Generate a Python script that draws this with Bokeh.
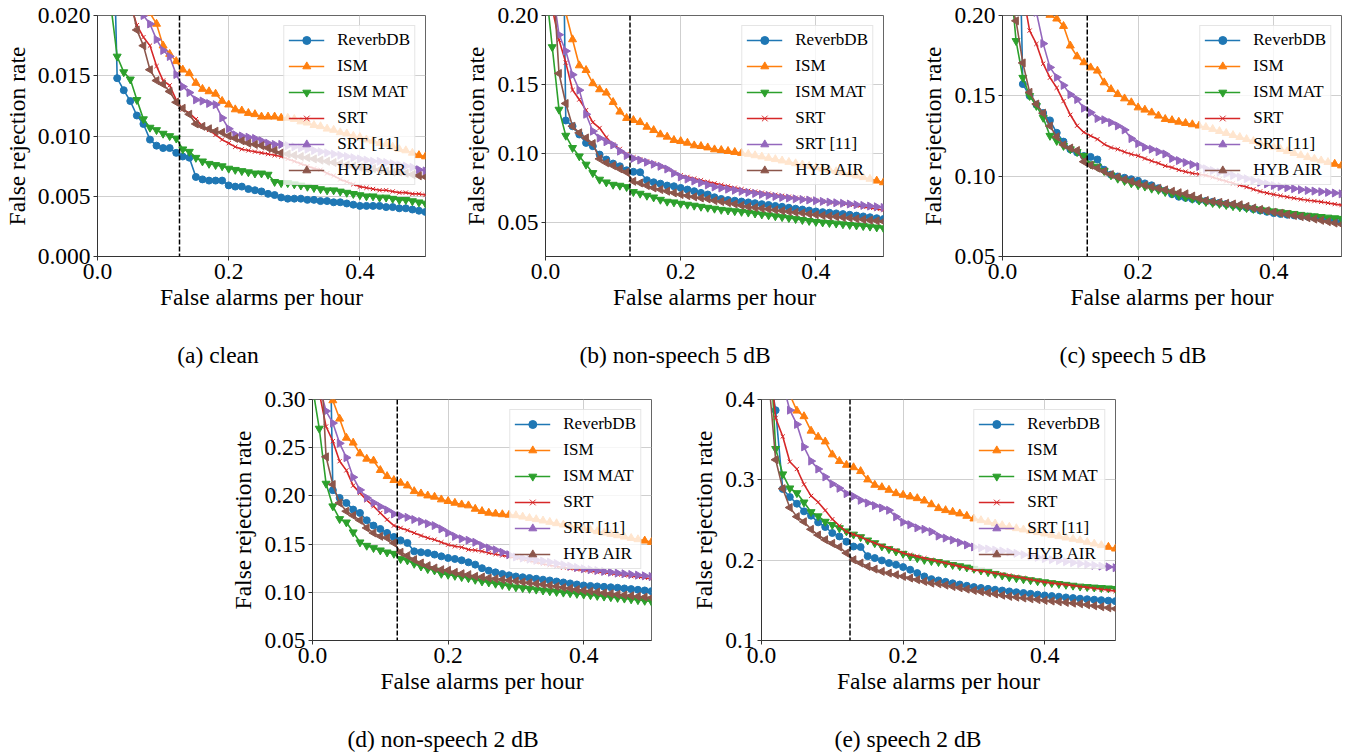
import math
from bokeh.plotting import figure
from bokeh.layouts import row, column
from bokeh.models import (Range1d, FixedTicker, PrintfTickFormatter, Span, Legend,
                          LegendItem, Spacer, Div)
from bokeh.embed import file_html
from bokeh.resources import INLINE

# ---------------- data ----------------
false_alarms_per_hour = [
    0.00, 0.01, 0.02, 0.03, 0.04, 0.05, 0.06, 0.07, 0.08, 0.09,
    0.10, 0.11, 0.12, 0.13, 0.14, 0.15, 0.16, 0.17, 0.18, 0.19,
    0.20, 0.21, 0.22, 0.23, 0.24, 0.25, 0.26, 0.27, 0.28, 0.29,
    0.30, 0.31, 0.32, 0.33, 0.34, 0.35, 0.36, 0.37, 0.38, 0.39,
    0.40, 0.41, 0.42, 0.43, 0.44, 0.45, 0.46, 0.47, 0.48, 0.49,
    0.50]
target_fa = 0.125

series_names = ["ReverbDB", "ISM", "ISM MAT", "SRT", "SRT [11]", "HYB AIR"]

# (a) clean
clean_reverbdb = [
    0.30, 0.12, 0.037, 0.0148, 0.0138, 0.0129, 0.0117, 0.0110, 0.0097, 0.0092,
    0.0090, 0.0090, 0.0086, 0.0083, 0.0082, 0.0066, 0.0064, 0.0063, 0.0063, 0.0063,
    0.0059, 0.0058, 0.0058, 0.0056, 0.0055, 0.0054, 0.0052, 0.0051, 0.0049, 0.0048,
    0.0048, 0.0048, 0.0047, 0.0047, 0.0046, 0.0046, 0.0045, 0.0045, 0.0044, 0.0043,
    0.0042, 0.0042, 0.0042, 0.0042, 0.0041, 0.0041, 0.0040, 0.0040, 0.0039, 0.0038,
    0.0037]
clean_ism = [
    0.060, 0.050, 0.042, 0.036, 0.031, 0.027, 0.024, 0.0218, 0.0202, 0.0193,
    0.0175, 0.0168, 0.0162, 0.0155, 0.0152, 0.0144, 0.0139, 0.0137, 0.0135, 0.0129,
    0.0126, 0.0122, 0.0121, 0.0119, 0.0118, 0.0116, 0.0116, 0.0116, 0.0115, 0.0115,
    0.0114, 0.0112, 0.0111, 0.0109, 0.0108, 0.0106, 0.0105, 0.0103, 0.0102, 0.0100,
    0.0099, 0.0097, 0.0096, 0.0094, 0.0093, 0.0091, 0.0089, 0.0088, 0.0086, 0.0084,
    0.0083]
clean_ism_mat = [
    0.080, 0.045, 0.021, 0.0166, 0.0153, 0.0147, 0.0130, 0.0114, 0.0107, 0.0105,
    0.0102, 0.0100, 0.0098, 0.0089, 0.0087, 0.0082, 0.0079, 0.0077, 0.0076, 0.0075,
    0.0073, 0.0072, 0.0071, 0.0070, 0.0069, 0.0069, 0.0068, 0.0062, 0.0061, 0.0061,
    0.0060, 0.0059, 0.0058, 0.0057, 0.0056, 0.0055, 0.0055, 0.0054, 0.0053, 0.0052,
    0.0051, 0.0050, 0.0050, 0.0049, 0.0049, 0.0048, 0.0047, 0.0047, 0.0046, 0.0045,
    0.0044]
clean_srt = [
    0.060, 0.050, 0.040, 0.032, 0.026, 0.0210, 0.0192, 0.0182, 0.0175, 0.0158,
    0.0146, 0.0142, 0.0130, 0.0122, 0.0119, 0.0114, 0.0108, 0.0105, 0.0101, 0.0097,
    0.0094, 0.0091, 0.0089, 0.0088, 0.0087, 0.0086, 0.0085, 0.0084, 0.0083, 0.0081,
    0.0079, 0.0077, 0.0075, 0.0073, 0.0072, 0.0069, 0.0067, 0.0064, 0.0062, 0.0060,
    0.0058, 0.0057, 0.0056, 0.0055, 0.0055, 0.0054, 0.0053, 0.0053, 0.0052, 0.0052,
    0.0051]
clean_srt11 = [
    0.080, 0.065, 0.052, 0.042, 0.034, 0.028, 0.0225, 0.0200, 0.0193, 0.0180,
    0.0171, 0.0166, 0.0151, 0.0141, 0.0136, 0.0130, 0.0129, 0.0127, 0.0126, 0.0115,
    0.0106, 0.0101, 0.0100, 0.0099, 0.0098, 0.0096, 0.0094, 0.0093, 0.0093, 0.0092,
    0.0091, 0.0090, 0.0089, 0.0088, 0.0087, 0.0086, 0.0085, 0.0084, 0.0083, 0.0082,
    0.0081, 0.0080, 0.0079, 0.0079, 0.0078, 0.0077, 0.0076, 0.0075, 0.0074, 0.0072,
    0.0071]
clean_hyb = [
    0.060, 0.050, 0.040, 0.032, 0.026, 0.0215, 0.0188, 0.0175, 0.0155, 0.0146,
    0.0143, 0.0137, 0.0128, 0.0123, 0.0118, 0.0110, 0.0108, 0.0106, 0.0104, 0.0103,
    0.0100, 0.0098, 0.0096, 0.0094, 0.0093, 0.0092, 0.0090, 0.0088, 0.0086, 0.0085,
    0.0084, 0.0083, 0.0082, 0.0081, 0.0080, 0.0079, 0.0078, 0.0077, 0.0076, 0.0075,
    0.0074, 0.0073, 0.0073, 0.0072, 0.0071, 0.0070, 0.0070, 0.0069, 0.0068, 0.0067,
    0.0066]

# (b) non-speech 5 dB
ns5_reverbdb = [
    0.90, 0.70, 0.50, 0.1238, 0.1196, 0.1136, 0.1075, 0.1051, 0.0990, 0.0954,
    0.0925, 0.0905, 0.0876, 0.0865, 0.0862, 0.0804, 0.0789, 0.0779, 0.0765, 0.0760,
    0.0748, 0.0736, 0.0724, 0.0712, 0.0700, 0.0680, 0.0668, 0.0660, 0.0655, 0.0649,
    0.0643, 0.0637, 0.0630, 0.0624, 0.0617, 0.0611, 0.0604, 0.0597, 0.0591, 0.0584,
    0.0577, 0.0572, 0.0568, 0.0563, 0.0558, 0.0553, 0.0547, 0.0541, 0.0535, 0.0528,
    0.0522]
ns5_ism = [
    0.40, 0.30, 0.25, 0.202, 0.1826, 0.1637, 0.1603, 0.1507, 0.1463, 0.1439,
    0.1371, 0.1301, 0.1255, 0.1240, 0.1225, 0.1191, 0.1167, 0.1136, 0.1119, 0.1095,
    0.1087, 0.1075, 0.1056, 0.1051, 0.1041, 0.1027, 0.1022, 0.1015, 0.1008, 0.1001,
    0.0994, 0.0984, 0.0975, 0.0965, 0.0956, 0.0946, 0.0936, 0.0926, 0.0917, 0.0907,
    0.0897, 0.0887, 0.0878, 0.0868, 0.0859, 0.0849, 0.0837, 0.0825, 0.0813, 0.0800,
    0.0788]
ns5_ism_mat = [
    0.223, 0.1771, 0.1317, 0.1128, 0.1039, 0.0978, 0.0918, 0.0857, 0.0809, 0.0789,
    0.0772, 0.0765, 0.0755, 0.0719, 0.0707, 0.0692, 0.0680, 0.0663, 0.0649, 0.0644,
    0.0634, 0.0627, 0.0620, 0.0612, 0.0605, 0.0598, 0.0590, 0.0585, 0.0580, 0.0575,
    0.0570, 0.0563, 0.0556, 0.0550, 0.0543, 0.0537, 0.0530, 0.0523, 0.0516, 0.0509,
    0.0502, 0.0498, 0.0494, 0.0490, 0.0485, 0.0480, 0.0476, 0.0472, 0.0468, 0.0462,
    0.0456]
ns5_srt = [
    0.30, 0.205, 0.1822, 0.1658, 0.1459, 0.1390, 0.1313, 0.1224, 0.1183, 0.1115,
    0.1062, 0.1031, 0.0994, 0.0970, 0.0955, 0.0940, 0.0925, 0.0905, 0.0885, 0.0860,
    0.0840, 0.0828, 0.0816, 0.0804, 0.0792, 0.0781, 0.0770, 0.0760, 0.0749, 0.0739,
    0.0728, 0.0721, 0.0713, 0.0706, 0.0698, 0.0691, 0.0684, 0.0676, 0.0669, 0.0662,
    0.0655, 0.0649, 0.0643, 0.0638, 0.0632, 0.0626, 0.0618, 0.0610, 0.0603, 0.0595,
    0.0587]
ns5_srt11 = [
    0.40, 0.221, 0.1860, 0.1742, 0.1570, 0.1458, 0.1283, 0.1160, 0.1110, 0.1083,
    0.1060, 0.1015, 0.0983, 0.0962, 0.0950, 0.0935, 0.0920, 0.0905, 0.0885, 0.0855,
    0.0828, 0.0812, 0.0798, 0.0785, 0.0770, 0.0755, 0.0747, 0.0739, 0.0731, 0.0723,
    0.0715, 0.0708, 0.0701, 0.0693, 0.0686, 0.0679, 0.0674, 0.0669, 0.0664, 0.0660,
    0.0655, 0.0650, 0.0645, 0.0640, 0.0636, 0.0631, 0.0626, 0.0621, 0.0616, 0.0611,
    0.0606]
ns5_hyb = [
    0.40, 0.237, 0.1579, 0.1361, 0.1196, 0.1148, 0.1111, 0.1070, 0.0959, 0.0930,
    0.0910, 0.0886, 0.0862, 0.0796, 0.0784, 0.0765, 0.0748, 0.0736, 0.0724, 0.0712,
    0.0700, 0.0692, 0.0683, 0.0675, 0.0668, 0.0656, 0.0649, 0.0641, 0.0631, 0.0621,
    0.0611, 0.0605, 0.0599, 0.0594, 0.0588, 0.0582, 0.0576, 0.0570, 0.0565, 0.0559,
    0.0553, 0.0548, 0.0543, 0.0539, 0.0534, 0.0529, 0.0524, 0.0519, 0.0514, 0.0509,
    0.0504]

# (c) speech 5 dB
sp5_reverbdb = [
    0.60, 0.45, 0.35, 0.1573, 0.1500, 0.1445, 0.1393, 0.1347, 0.1270, 0.1215,
    0.1167, 0.1148, 0.1125, 0.1120, 0.1104, 0.1040, 0.1010, 0.0998, 0.0990, 0.0981,
    0.0971, 0.0955, 0.0943, 0.0925, 0.0910, 0.0888, 0.0872, 0.0865, 0.0858, 0.0852,
    0.0846, 0.0840, 0.0834, 0.0827, 0.0820, 0.0812, 0.0804, 0.0795, 0.0786, 0.0778,
    0.0770, 0.0765, 0.0760, 0.0756, 0.0752, 0.0748, 0.0743, 0.0737, 0.0730, 0.0722,
    0.0715]
sp5_ism = [
    0.55, 0.45, 0.37, 0.32, 0.28, 0.25, 0.22, 0.2003, 0.1980, 0.1934,
    0.1812, 0.1745, 0.1708, 0.1676, 0.1656, 0.1583, 0.1541, 0.1510, 0.1483, 0.1459,
    0.1427, 0.1413, 0.1396, 0.1376, 0.1355, 0.1348, 0.1338, 0.1330, 0.1322, 0.1314,
    0.1305, 0.1293, 0.1280, 0.1268, 0.1255, 0.1243, 0.1230, 0.1218, 0.1205, 0.1193,
    0.1180, 0.1168, 0.1155, 0.1143, 0.1130, 0.1118, 0.1108, 0.1097, 0.1087, 0.1076,
    0.1066]
sp5_ism_mat = [
    0.35, 0.2306, 0.1842, 0.1613, 0.1500, 0.1438, 0.1364, 0.1252, 0.1220, 0.1189,
    0.1168, 0.1151, 0.1127, 0.1075, 0.1060, 0.1033, 0.1006, 0.0985, 0.0971, 0.0956,
    0.0944, 0.0936, 0.0923, 0.0915, 0.0902, 0.0892, 0.0880, 0.0868, 0.0860, 0.0849,
    0.0840, 0.0834, 0.0828, 0.0821, 0.0814, 0.0807, 0.0802, 0.0797, 0.0792, 0.0787,
    0.0782, 0.0776, 0.0771, 0.0766, 0.0760, 0.0755, 0.0751, 0.0747, 0.0743, 0.0739,
    0.0735]
sp5_srt = [
    0.40, 0.30, 0.25, 0.214, 0.1906, 0.1823, 0.1700, 0.1613, 0.1550, 0.1467,
    0.1382, 0.1314, 0.1273, 0.1251, 0.1230, 0.1199, 0.1178, 0.1168, 0.1151, 0.1137,
    0.1127, 0.1110, 0.1095, 0.1081, 0.1064, 0.1054, 0.1039, 0.1028, 0.1018, 0.1012,
    0.1005, 0.0993, 0.0980, 0.0968, 0.0956, 0.0944, 0.0932, 0.0918, 0.0905, 0.0895,
    0.0886, 0.0878, 0.0870, 0.0863, 0.0856, 0.0850, 0.0845, 0.0840, 0.0833, 0.0826,
    0.0820]
sp5_srt11 = [
    0.50, 0.40, 0.32, 0.27, 0.23, 0.202, 0.1825, 0.1677, 0.1615, 0.1565,
    0.1508, 0.1477, 0.1423, 0.1396, 0.1359, 0.1351, 0.1334, 0.1313, 0.1288, 0.1234,
    0.1203, 0.1180, 0.1168, 0.1152, 0.1138, 0.1110, 0.1097, 0.1085, 0.1072, 0.1060,
    0.1046, 0.1035, 0.1025, 0.1015, 0.1004, 0.0994, 0.0984, 0.0973, 0.0962, 0.0952,
    0.0942, 0.0935, 0.0928, 0.0922, 0.0916, 0.0911, 0.0907, 0.0903, 0.0899, 0.0895,
    0.0890]
sp5_hyb = [
    0.30, 0.210, 0.1967, 0.1705, 0.1522, 0.1449, 0.1392, 0.1312, 0.1245, 0.1195,
    0.1175, 0.1160, 0.1090, 0.1068, 0.1050, 0.1030, 0.1010, 0.0995, 0.0980, 0.0968,
    0.0955, 0.0944, 0.0934, 0.0925, 0.0915, 0.0906, 0.0897, 0.0890, 0.0876, 0.0862,
    0.0849, 0.0843, 0.0837, 0.0831, 0.0827, 0.0822, 0.0812, 0.0802, 0.0793, 0.0785,
    0.0776, 0.0769, 0.0762, 0.0755, 0.0748, 0.0741, 0.0733, 0.0725, 0.0717, 0.0708,
    0.0700]

# (d) non-speech 2 dB
ns2_reverbdb = [
    0.90, 0.75, 0.60, 0.2059, 0.1979, 0.1927, 0.1858, 0.1823, 0.1747, 0.1692,
    0.1657, 0.1616, 0.1574, 0.1539, 0.1512, 0.1425, 0.1415, 0.1408, 0.1391, 0.1373,
    0.1356, 0.1346, 0.1332, 0.1311, 0.1287, 0.1250, 0.1225, 0.1207, 0.1190, 0.1176,
    0.1164, 0.1156, 0.1148, 0.1140, 0.1131, 0.1123, 0.1112, 0.1102, 0.1092, 0.1081,
    0.1071, 0.1066, 0.1061, 0.1057, 0.1052, 0.1047, 0.1040, 0.1033, 0.1026, 0.1019,
    0.1012]
ns2_ism = [
    0.50, 0.40, 0.34, 0.299, 0.2800, 0.2602, 0.2551, 0.2440, 0.2384, 0.2365,
    0.2267, 0.2204, 0.2163, 0.2135, 0.2107, 0.2048, 0.2024, 0.2003, 0.1990, 0.1962,
    0.1945, 0.1927, 0.1910, 0.1900, 0.1865, 0.1841, 0.1824, 0.1815, 0.1808, 0.1803,
    0.1798, 0.1784, 0.1770, 0.1757, 0.1743, 0.1729, 0.1715, 0.1701, 0.1688, 0.1674,
    0.1660, 0.1646, 0.1632, 0.1618, 0.1604, 0.1590, 0.1576, 0.1562, 0.1549, 0.1535,
    0.1521]
ns2_ism_mat = [
    0.313, 0.2699, 0.2128, 0.1893, 0.1761, 0.1726, 0.1623, 0.1519, 0.1484, 0.1460,
    0.1436, 0.1415, 0.1401, 0.1346, 0.1332, 0.1297, 0.1269, 0.1242, 0.1228, 0.1193,
    0.1183, 0.1172, 0.1159, 0.1148, 0.1131, 0.1114, 0.1103, 0.1090, 0.1078, 0.1065,
    0.1053, 0.1045, 0.1037, 0.1029, 0.1020, 0.1012, 0.1005, 0.0998, 0.0992, 0.0985,
    0.0978, 0.0971, 0.0964, 0.0957, 0.0950, 0.0943, 0.0936, 0.0928, 0.0920, 0.0913,
    0.0905]
ns2_srt = [
    0.40, 0.307, 0.2720, 0.2568, 0.2360, 0.2265, 0.2107, 0.2031, 0.1955, 0.1893,
    0.1823, 0.1754, 0.1692, 0.1668, 0.1643, 0.1616, 0.1588, 0.1564, 0.1546, 0.1519,
    0.1494, 0.1477, 0.1467, 0.1443, 0.1436, 0.1425, 0.1408, 0.1395, 0.1383, 0.1369,
    0.1355, 0.1340, 0.1325, 0.1310, 0.1295, 0.1280, 0.1268, 0.1257, 0.1247, 0.1237,
    0.1227, 0.1219, 0.1210, 0.1202, 0.1193, 0.1185, 0.1176, 0.1167, 0.1159, 0.1150,
    0.1141]
ns2_srt11 = [
    0.45, 0.314, 0.2880, 0.2755, 0.2545, 0.2397, 0.2193, 0.2062, 0.1980, 0.1930,
    0.1889, 0.1854, 0.1812, 0.1792, 0.1778, 0.1755, 0.1735, 0.1712, 0.1692, 0.1657,
    0.1616, 0.1580, 0.1555, 0.1540, 0.1519, 0.1484, 0.1460, 0.1440, 0.1415, 0.1390,
    0.1366, 0.1355, 0.1345, 0.1334, 0.1324, 0.1313, 0.1299, 0.1285, 0.1272, 0.1258,
    0.1244, 0.1235, 0.1226, 0.1217, 0.1208, 0.1199, 0.1192, 0.1185, 0.1178, 0.1171,
    0.1164]
ns2_hyb = [
    0.50, 0.376, 0.2405, 0.2118, 0.1927, 0.1841, 0.1796, 0.1747, 0.1668, 0.1616,
    0.1581, 0.1564, 0.1512, 0.1415, 0.1380, 0.1339, 0.1304, 0.1276, 0.1252, 0.1235,
    0.1228, 0.1207, 0.1193, 0.1183, 0.1166, 0.1159, 0.1148, 0.1140, 0.1132, 0.1124,
    0.1116, 0.1107, 0.1098, 0.1089, 0.1080, 0.1071, 0.1061, 0.1050, 0.1040, 0.1029,
    0.1019, 0.1011, 0.1003, 0.0994, 0.0986, 0.0978, 0.0971, 0.0964, 0.0957, 0.0950,
    0.0943]

# (e) speech 2 dB
sp2_reverbdb = [
    0.55, 0.44, 0.3866, 0.2886, 0.2786, 0.2703, 0.2608, 0.2554, 0.2471, 0.2413,
    0.2338, 0.2296, 0.2230, 0.2170, 0.2164, 0.2050, 0.2026, 0.1997, 0.1964, 0.1943,
    0.1914, 0.1881, 0.1839, 0.1798, 0.1764, 0.1748, 0.1730, 0.1712, 0.1697, 0.1681,
    0.1665, 0.1654, 0.1643, 0.1632, 0.1622, 0.1611, 0.1601, 0.1591, 0.1581, 0.1571,
    0.1561, 0.1553, 0.1545, 0.1536, 0.1528, 0.1520, 0.1514, 0.1508, 0.1502, 0.1496,
    0.1490]
sp2_ism = [
    0.70, 0.60, 0.52, 0.45, 0.406, 0.3860, 0.3790, 0.3610, 0.3535, 0.3476,
    0.3315, 0.3233, 0.3185, 0.3155, 0.3107, 0.3003, 0.2936, 0.2907, 0.2874, 0.2832,
    0.2812, 0.2791, 0.2770, 0.2740, 0.2694, 0.2646, 0.2621, 0.2600, 0.2580, 0.2550,
    0.2517, 0.2496, 0.2475, 0.2455, 0.2434, 0.2413, 0.2396, 0.2380, 0.2363, 0.2347,
    0.2330, 0.2313, 0.2297, 0.2280, 0.2264, 0.2247, 0.2226, 0.2205, 0.2185, 0.2164,
    0.2143]
sp2_ism_mat = [
    0.65, 0.50, 0.3386, 0.3070, 0.2895, 0.2836, 0.2720, 0.2600, 0.2548, 0.2480,
    0.2440, 0.2400, 0.2360, 0.2320, 0.2288, 0.2247, 0.2213, 0.2172, 0.2139, 0.2110,
    0.2081, 0.2047, 0.2026, 0.2005, 0.1990, 0.1978, 0.1960, 0.1942, 0.1926, 0.1910,
    0.1894, 0.1873, 0.1852, 0.1831, 0.1810, 0.1789, 0.1777, 0.1764, 0.1752, 0.1739,
    0.1727, 0.1716, 0.1705, 0.1695, 0.1684, 0.1673, 0.1667, 0.1661, 0.1655, 0.1650,
    0.1644]
sp2_srt = [
    0.60, 0.4655, 0.3770, 0.3540, 0.3225, 0.3135, 0.2943, 0.2800, 0.2722, 0.2620,
    0.2510, 0.2428, 0.2355, 0.2320, 0.2290, 0.2247, 0.2213, 0.2180, 0.2151, 0.2122,
    0.2089, 0.2068, 0.2047, 0.2025, 0.2005, 0.1985, 0.1965, 0.1944, 0.1923, 0.1902,
    0.1881, 0.1867, 0.1853, 0.1838, 0.1824, 0.1810, 0.1793, 0.1777, 0.1760, 0.1744,
    0.1727, 0.1716, 0.1705, 0.1695, 0.1684, 0.1673, 0.1661, 0.1650, 0.1638, 0.1627,
    0.1615]
sp2_srt11 = [
    0.70, 0.60, 0.50, 0.42, 0.3867, 0.3690, 0.3410, 0.3233, 0.3134, 0.3036,
    0.2949, 0.2895, 0.2828, 0.2795, 0.2745, 0.2712, 0.2679, 0.2650, 0.2621, 0.2540,
    0.2473, 0.2442, 0.2402, 0.2385, 0.2355, 0.2300, 0.2275, 0.2250, 0.2220, 0.2190,
    0.2164, 0.2152, 0.2139, 0.2126, 0.2114, 0.2101, 0.2085, 0.2068, 0.2052, 0.2035,
    0.2019, 0.2006, 0.1994, 0.1981, 0.1969, 0.1956, 0.1946, 0.1936, 0.1926, 0.1916,
    0.1906]
sp2_hyb = [
    0.55, 0.428, 0.325, 0.289, 0.2655, 0.2542, 0.2478, 0.2384, 0.2313, 0.2255,
    0.2209, 0.2164, 0.2089, 0.2005, 0.1964, 0.1922, 0.1889, 0.1860, 0.1839, 0.1818,
    0.1798, 0.1777, 0.1756, 0.1735, 0.1714, 0.1706, 0.1689, 0.1672, 0.1656, 0.1639,
    0.1623, 0.1608, 0.1593, 0.1579, 0.1564, 0.1549, 0.1539, 0.1529, 0.1519, 0.1509,
    0.1499, 0.1491, 0.1482, 0.1474, 0.1465, 0.1457, 0.1445, 0.1432, 0.1420, 0.1407,
    0.1395]

x_ticks = [0.0, 0.2, 0.4]
clean_yticks = [0.000, 0.005, 0.010, 0.015, 0.020]
ns5_yticks = [0.05, 0.10, 0.15, 0.20]
sp5_yticks = [0.05, 0.10, 0.15, 0.20]
ns2_yticks = [0.05, 0.10, 0.15, 0.20, 0.25, 0.30]
sp2_yticks = [0.1, 0.2, 0.3, 0.4]

captions = ["(a) clean", "(b) non-speech 5 dB", "(c) speech 5 dB",
            "(d) non-speech 2 dB", "(e) speech 2 dB"]

# ---------------- style ----------------
FONT = "Liberation Serif"
COLORS = ["#1f77b4", "#ff7f0e", "#2ca02c", "#d62728", "#9467bd", "#8c564b"]
MARKERS = [("circle", 0.0, 7), ("triangle", 0.0, 8), ("inverted_triangle", 0.0, 8),
           ("x", 0.0, 6), ("triangle", -math.pi / 2, 8), ("triangle", math.pi / 2, 8)]


def make_panel(width, height, bl, br, bt, bb, yr, yticks, yfmt, series):
    p = figure(width=width, height=height, title=None,
               x_range=Range1d(0, 0.5), y_range=Range1d(*yr),
               output_backend="svg", toolbar_location=None,
               min_border_left=bl, min_border_right=br,
               min_border_top=bt, min_border_bottom=bb)
    p.background_fill_color = "white"
    p.border_fill_color = "white"
    p.outline_line_color = "#666666"
    p.outline_line_width = 1

    for ax in (p.xaxis[0], p.yaxis[0]):
        ax.axis_label_text_font = FONT
        ax.axis_label_text_font_size = "23.5px"
        ax.axis_label_text_font_style = "normal"
        ax.axis_label_text_color = "black"
        ax.major_label_text_font = FONT
        ax.major_label_text_font_size = "23.5px"
        ax.major_label_text_color = "black"
        ax.axis_line_color = "#333333"
        ax.major_tick_line_color = "#333333"
        ax.major_tick_in = 0
        ax.major_tick_out = 4
        ax.minor_tick_line_color = None
        ax.major_label_standoff = 3
    p.xaxis.axis_label_standoff = 2
    p.yaxis.axis_label_standoff = 5

    p.xaxis.axis_label = "False alarms per hour"
    p.yaxis.axis_label = "False rejection rate"
    p.xaxis.ticker = FixedTicker(ticks=x_ticks)
    p.xaxis.formatter = PrintfTickFormatter(format="%.1f")
    p.yaxis.ticker = FixedTicker(ticks=yticks)
    p.yaxis.formatter = PrintfTickFormatter(format=yfmt)

    p.grid.grid_line_color = "#cfcfcf"
    p.grid.grid_line_width = 1

    items = []
    for name, ys, color, (mk, ang, sz) in zip(series_names, series, COLORS, MARKERS):
        rl = p.line(false_alarms_per_hour, ys, line_color=color, line_width=1.6)
        if mk == "x":
            rm = p.scatter(false_alarms_per_hour, ys, marker=mk, size=sz,
                           line_color=color, line_width=1)
        else:
            rm = p.scatter(false_alarms_per_hour, ys, marker=mk, size=sz, angle=ang,
                           fill_color=color, line_color=color, line_width=1)
        items.append(LegendItem(label=name, renderers=[rl, rm]))

    p.add_layout(Span(location=target_fa, dimension="height", line_color="black",
                      line_dash="5 2", line_width=1.5))

    legend = Legend(items=items, location="top_right",
                    label_text_font=FONT, label_text_font_size="17px",
                    label_text_color="black",
                    glyph_width=36, glyph_height=20, label_height=20,
                    label_standoff=13, spacing=6, padding=4, margin=10,
                    border_line_color="#cccccc", border_line_width=1,
                    background_fill_color="white", background_fill_alpha=0.8)
    p.add_layout(legend)
    return p


def caption_div(text, width, height):
    return Div(text=text, width=width, height=height, margin=0,
               styles={"font-family": "'Liberation Serif', serif",
                       "font-size": "23.5px", "line-height": "27px",
                       "text-align": "center", "color": "black",
                       "white-space": "nowrap"})


top_h = 342
bot_h = 351
cap_h_top = 33
cap_h_bot = 27

pa = make_panel(460, top_h, 96, 35, 15, 86, (0.0, 0.02), clean_yticks, "%.3f",
                [clean_reverbdb, clean_ism, clean_ism_mat, clean_srt, clean_srt11, clean_hyb])
pb = make_panel(457, top_h, 82, 34, 15, 86, (0.025, 0.20), ns5_yticks, "%.2f",
                [ns5_reverbdb, ns5_ism, ns5_ism_mat, ns5_srt, ns5_srt11, ns5_hyb])
pc = make_panel(434, top_h, 82, 10, 15, 86, (0.05, 0.20), sp5_yticks, "%.2f",
                [sp5_reverbdb, sp5_ism, sp5_ism_mat, sp5_srt, sp5_srt11, sp5_hyb])
pd = make_panel(452, bot_h, 82, 28, 24, 86, (0.05, 0.30), ns2_yticks, "%.2f",
                [ns2_reverbdb, ns2_ism, ns2_ism_mat, ns2_srt, ns2_srt11, ns2_hyb])
pe = make_panel(466, bot_h, 82, 30, 24, 86, (0.1, 0.4), sp2_yticks, "%.1f",
                [sp2_reverbdb, sp2_ism, sp2_ism_mat, sp2_srt, sp2_srt11, sp2_hyb])

top_caps = row(caption_div(captions[0], 436, cap_h_top),
               caption_div(captions[1], 478, cap_h_top),
               caption_div(captions[2], 438, cap_h_top))
bot_caps = row(Spacer(width=227, height=cap_h_bot),
               caption_div(captions[3], 432, cap_h_bot),
               caption_div(captions[4], 498, cap_h_bot))

layout = column(row(pa, pb, pc), top_caps,
                row(Spacer(width=227, height=bot_h), pd, pe), bot_caps)

with open("out.html", "w") as f:
    f.write(file_html(layout, INLINE))
